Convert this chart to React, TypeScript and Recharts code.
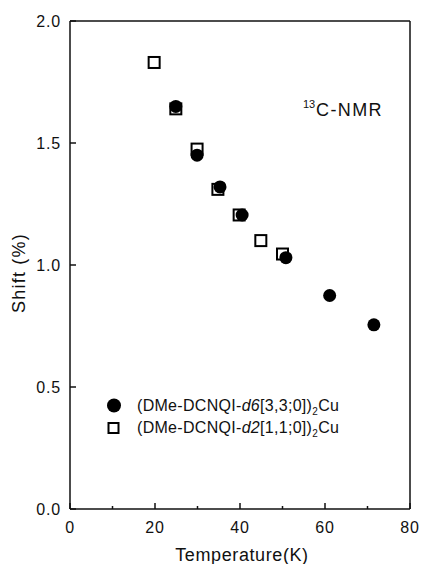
import React from "react";
import { ScatterChart, Scatter, XAxis, YAxis, Customized } from "recharts";

// d6[3,3;0] sample (filled circles)
const circleTemps = [24.9, 29.9, 35.3, 40.5, 50.8, 61.1, 71.5];
const circleShifts = [1.65, 1.45, 1.32, 1.205, 1.03, 0.875, 0.755];
// d2[1,1;0] sample (open squares)
const squareTemps = [19.8, 24.9, 29.9, 34.8, 39.8, 44.9, 50.0];
const squareShifts = [1.83, 1.64, 1.475, 1.31, 1.205, 1.1, 1.045];

const xTicks = [0, 10, 20, 30, 40, 50, 60, 70, 80];
const xLabelTicks = [0, 20, 40, 60, 80];
const yTicks = [0, 0.5, 1.0, 1.5, 2.0];

const circleData = circleTemps.map((t, i) => ({ x: t, y: circleShifts[i] }));
const squareData = squareTemps.map((t, i) => ({ x: t, y: squareShifts[i] }));

const FONT = "'Liberation Sans', Arial, Helvetica, sans-serif";
const INK = "#111";

type Side = "bottom" | "top" | "left" | "right";

const AxisTick = (props: any) => {
  const { x, y, payload, side } = props as {
    x: number;
    y: number;
    payload: { value: number };
    side: Side;
  };
  const v = payload.value;
  const horizontal = side === "bottom" || side === "top";
  const major = horizontal ? xLabelTicks.includes(v) : true;
  const len = major ? 6 : 3;
  let line;
  if (side === "bottom") line = <line x1={x} y1={y} x2={x} y2={y - len} />;
  else if (side === "top") line = <line x1={x} y1={y} x2={x} y2={y + len} />;
  else if (side === "left") line = <line x1={x} y1={y} x2={x + len} y2={y} />;
  else line = <line x1={x} y1={y} x2={x - len} y2={y} />;
  return (
    <g>
      <g stroke={INK} strokeWidth={1.5}>{line}</g>
      {side === "bottom" && major && (
        <text x={x} y={y + 24} textAnchor="middle" fontSize={16} fill={INK} fontFamily={FONT} letterSpacing={0.8}>
          {v}
        </text>
      )}
      {side === "left" && (
        <text x={x - 9} y={y + 5.5} textAnchor="end" fontSize={16} fill={INK} fontFamily={FONT} letterSpacing={0.8}>
          {v.toFixed(1)}
        </text>
      )}
    </g>
  );
};

const Circle = (props: any) => {
  const { cx, cy } = props;
  return <circle cx={cx} cy={cy} r={6.5} fill="#000" />;
};

const Square = (props: any) => {
  const { cx, cy } = props;
  return <rect x={cx - 5.5} y={cy - 5.5} width={11} height={11} fill="#fff" stroke="#000" strokeWidth={2} />;
};

const Notes = () => (
  <g fontFamily={FONT} fill={INK}>
    <text x={303} y={108} fontSize={11}>13</text>
    <text x={316} y={116} fontSize={18} letterSpacing={1.4}>C-NMR</text>

    <circle cx={114} cy={405.5} r={7} fill="#000" />
    <text x={137} y={411} fontSize={16} letterSpacing={0.3}>
      (DMe-DCNQI-<tspan fontStyle="italic">d6</tspan>[3,3;0])
      <tspan fontSize={10} dy={4}>2</tspan>
      <tspan dy={-4}>Cu</tspan>
    </text>
    <rect x={108.5} y={423} width={10} height={10} fill="#fff" stroke="#000" strokeWidth={2} />
    <text x={137} y={433} fontSize={16} letterSpacing={0.3}>
      (DMe-DCNQI-<tspan fontStyle="italic">d2</tspan>[1,1;0])
      <tspan fontSize={10} dy={4}>2</tspan>
      <tspan dy={-4}>Cu</tspan>
    </text>

    <text x={242} y={561} fontSize={18} textAnchor="middle" letterSpacing={0.6}>
      Temperature(K)
    </text>
    <text x={25} y={273} fontSize={18} textAnchor="middle" letterSpacing={1.2} transform="rotate(-90 25 273)">
      Shift (%)
    </text>
  </g>
);

export default function App() {
  const axisLine = { stroke: INK, strokeWidth: 1.5 };
  return (
    <div style={{ position: "absolute", left: 0, top: 0, width: 422, height: 564, background: "#fff" }}>
      <ScatterChart width={422} height={564} margin={{ top: 20, right: 11, bottom: 25, left: 30 }}>
        <XAxis
          xAxisId="b"
          type="number"
          dataKey="x"
          domain={[0, 80]}
          ticks={xTicks}
          orientation="bottom"
          height={30}
          axisLine={axisLine}
          tickLine={false}
          tickSize={0}
          tickMargin={0}
          tick={(p: any) => <AxisTick {...p} side="bottom" />}
        />
        <XAxis
          xAxisId="t"
          type="number"
          dataKey="x"
          domain={[0, 80]}
          ticks={xTicks}
          orientation="top"
          height={1}
          axisLine={axisLine}
          tickLine={false}
          tickSize={0}
          tickMargin={0}
          tick={(p: any) => <AxisTick {...p} side="top" />}
        />
        <YAxis
          yAxisId="l"
          type="number"
          dataKey="y"
          domain={[0, 2]}
          ticks={yTicks}
          orientation="left"
          width={40}
          axisLine={axisLine}
          tickLine={false}
          tickSize={0}
          tickMargin={0}
          tick={(p: any) => <AxisTick {...p} side="left" />}
        />
        <YAxis
          yAxisId="r"
          type="number"
          dataKey="y"
          domain={[0, 2]}
          ticks={yTicks}
          orientation="right"
          width={1}
          axisLine={axisLine}
          tickLine={false}
          tickSize={0}
          tickMargin={0}
          tick={(p: any) => <AxisTick {...p} side="right" />}
        />
        <Scatter data={squareData} xAxisId="b" yAxisId="l" shape={Square} isAnimationActive={false} />
        <Scatter data={circleData} xAxisId="b" yAxisId="l" shape={Circle} isAnimationActive={false} />
        <Customized component={Notes} />
      </ScatterChart>
    </div>
  );
}
